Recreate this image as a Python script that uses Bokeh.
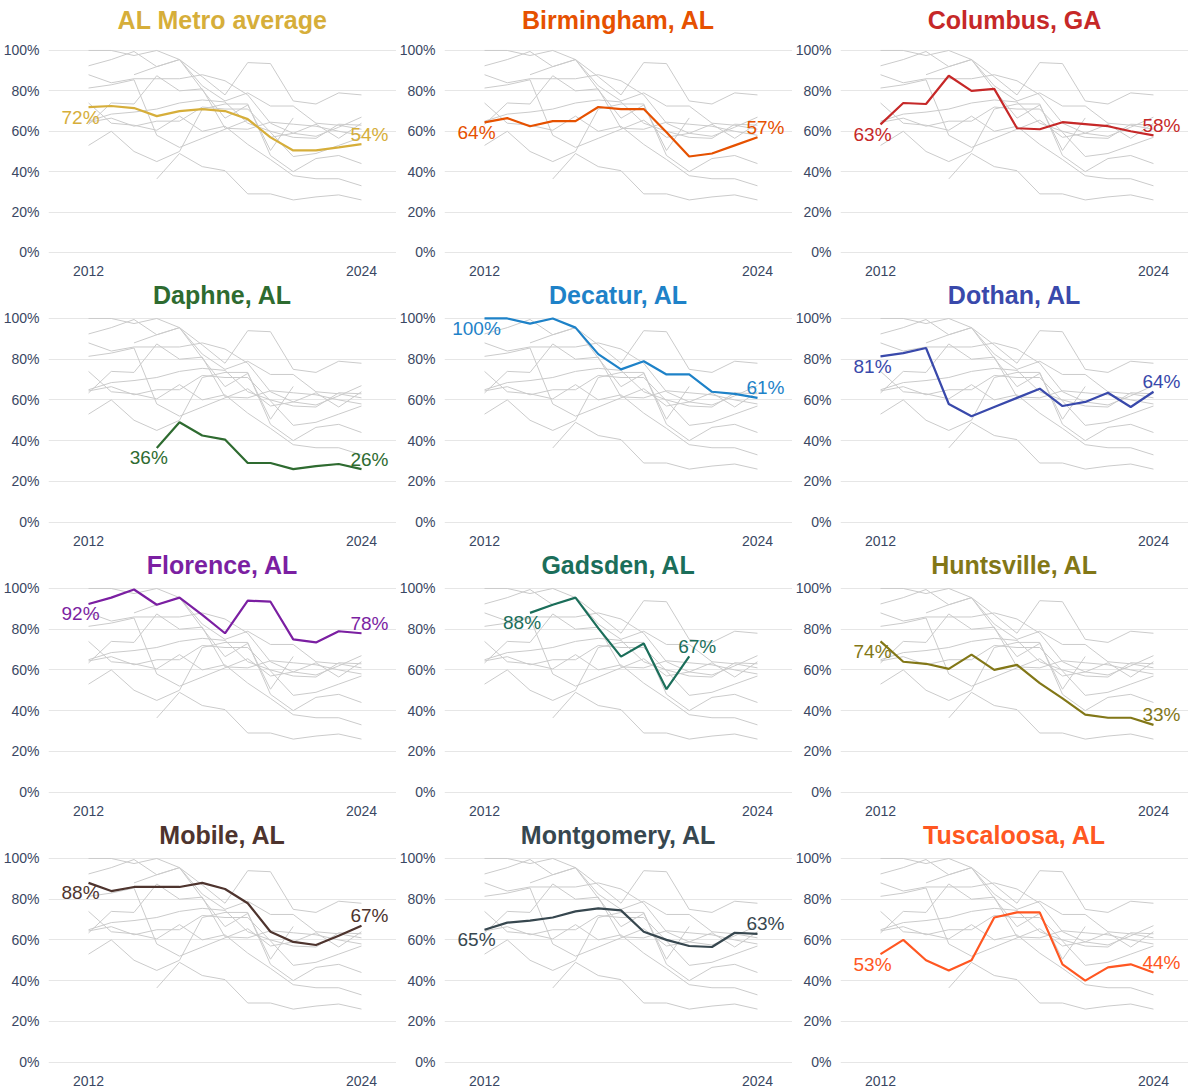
import math
from bokeh.plotting import figure
from bokeh.layouts import gridplot
from bokeh.models import ColumnDataSource, FixedTicker, Range1d, PrintfTickFormatter
from bokeh.core.properties import value
from bokeh.embed import file_html
from bokeh.resources import INLINE

NA = float("nan")
years = list(range(2012, 2025))

al_metro_average = [72, 72.5, 71.5, 67.5, 70, 71, 70, 66, 57, 50.5, 50.5, 52, 53.6]
birmingham = [64.4, 66.5, 62.5, 65, 65, 72, 71, 71, 59.5, 47.5, 49, 53, 57]
columbus = [63.4, 74, 73.5, 87.5, 80, 81, 61.5, 61, 64.5, 63.5, 62.5, 60, 58]
daphne = [NA, NA, NA, 36.4, 49, 42.5, 40.5, 29, 29, 26, 27.5, 28.5, 26]
decatur = [100, 100, 97.5, 100, 95.5, 82.5, 75, 79, 72.5, 72.5, 64, 63, 61]
dothan = [81.4, 83, 85.5, 58, 52, 56.5, 61, 65.5, 57, 59, 63.5, 56.5, 64]
florence = [92.4, 95.5, 99.5, 92, 95.5, 87, 78, 94, 93.5, 75, 73.5, 79, 78]
gadsden = [NA, NA, 88, 92, 95.5, 80.5, 66.5, 73, 50.5, 66.6, NA, NA, NA]
huntsville = [74, 64, 63, 60.5, 67.5, 60, 62.5, 53.5, 46, 38, 36.5, 36.5, 33]
mobile = [88, 84, 86, 86, 86, 88, 85, 78, 64, 59, 57.5, 62, 67]
montgomery = [65, 68.5, 69.5, 71, 74, 75.5, 74.5, 64, 60, 57, 56.5, 63.5, 63]
tuscaloosa = [53, 60, 50, 45, 50, 71, 73.5, 73.5, 48, 40, 46.5, 48, 44]

panel_names = ["AL Metro average", "Birmingham, AL", "Columbus, GA", "Daphne, AL",
               "Decatur, AL", "Dothan, AL", "Florence, AL", "Gadsden, AL",
               "Huntsville, AL", "Mobile, AL", "Montgomery, AL", "Tuscaloosa, AL"]
panel_series = [al_metro_average, birmingham, columbus, daphne, decatur, dothan,
                florence, gadsden, huntsville, mobile, montgomery, tuscaloosa]
panel_colors = ["#D6AE3A", "#E65100", "#C62828", "#2E6B30", "#1E82C8", "#3949AB",
                "#7B1FA2", "#1B6E5A", "#827717", "#4E342E", "#37474F", "#FF5722"]
city_series = panel_series[1:]

y_ticks = [0, 20, 40, 60, 80, 100]
x_ticks = [2012, 2024]

FONT = "Liberation Sans"
AXIS_COLOR = "#3a4763"

figs = []
for i, (name, series, color) in enumerate(zip(panel_names, panel_series, panel_colors)):
    first_row = i < 3
    h = 278 if first_row else 270
    yr = Range1d(-1.5, 108.4) if first_row else Range1d(-1.7, 104.9)
    p = figure(width=396, height=h, output_backend="svg", toolbar_location=None,
               x_range=Range1d(2010.24, 2025.54), y_range=yr,
               min_border_left=48, min_border_right=0,
               min_border_top=33 if first_row else 30,
               min_border_bottom=0)
    p.outline_line_color = None
    p.background_fill_color = "white"
    p.border_fill_color = "white"

    p.title.text = name
    p.title.align = "center"
    p.title.text_font = FONT
    p.title.text_font_size = "25px"
    p.title.text_font_style = "bold"
    p.title.text_color = color
    p.title.standoff = 0

    p.xgrid.grid_line_color = None
    p.ygrid.grid_line_color = "#e6e6e6"
    p.ygrid.grid_line_width = 1
    p.ygrid.ticker = FixedTicker(ticks=y_ticks)

    p.yaxis.ticker = FixedTicker(ticks=y_ticks)
    p.yaxis.formatter = PrintfTickFormatter(format="%d%%")
    p.xaxis.ticker = FixedTicker(ticks=x_ticks)
    p.xaxis.formatter = PrintfTickFormatter(format="%d")
    for ax in (p.xaxis, p.yaxis):
        ax.axis_line_color = None
        ax.major_tick_line_color = None
        ax.minor_tick_line_color = None
        ax.major_label_text_font = FONT
        ax.major_label_text_font_size = "14px"
        ax.major_label_text_color = AXIS_COLOR
    p.yaxis.major_label_standoff = 3
    p.xaxis.major_label_standoff = 4

    for s in city_series:
        p.line(years, s, line_color="#cbcbcb", line_width=1)

    p.line(years, series, line_color=color, line_width=2.2)

    valid = [(y, v) for y, v in zip(years, series) if not math.isnan(v)]
    (x0, v0), (x1, v1) = valid[0], valid[-1]
    src = ColumnDataSource(dict(x=[x0], y=[v0], t=[f"{round(v0)}%"]))
    p.text(x="x", y="y", text="t", source=src, x_offset=-8, y_offset=10,
           text_align="center", text_baseline="middle", text_color=color,
           text_font=value(FONT), text_font_size="19px")
    src2 = ColumnDataSource(dict(x=[x1], y=[v1], t=[f"{round(v1)}%"]))
    p.text(x="x", y="y", text="t", source=src2, x_offset=8, y_offset=-10,
           text_align="center", text_baseline="middle", text_color=color,
           text_font=value(FONT), text_font_size="19px")
    figs.append(p)

grid = gridplot([figs[i:i + 3] for i in range(0, 12, 3)], toolbar_location=None)
open("out.html", "w").write(file_html(grid, INLINE))
